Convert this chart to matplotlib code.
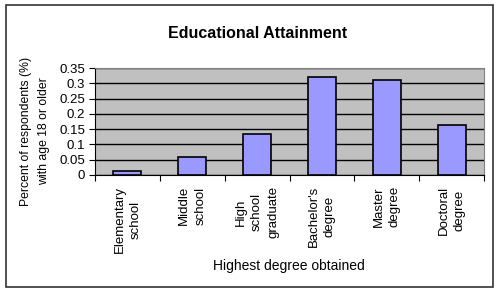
import numpy as np
import matplotlib
matplotlib.use('Agg')
import matplotlib.pyplot as plt
from matplotlib.patches import Rectangle

# Data
categories = ['Elementary\nschool', 'Middle\nschool', 'High\nschool\ngraduate',
              "Bachelor's\ndegree", 'Master\ndegree', 'Doctoral\ndegree']
values = [0.013, 0.058, 0.133, 0.322, 0.31, 0.164]
yticks = [0, 0.05, 0.1, 0.15, 0.2, 0.25, 0.3, 0.35]
ytick_labels = ['0', '0.05', '0.1', '0.15', '0.2', '0.25', '0.3', '0.35']

plt.rcParams['font.family'] = ['Liberation Sans', 'DejaVu Sans']

fig = plt.figure(figsize=(5, 2.95), dpi=100)
ax = fig.add_axes([0.19, 0.407, 0.778, 0.362])

x = np.arange(len(categories))
ax.set_facecolor('#c0c0c0')
ax.yaxis.grid(True, color='black', linewidth=1)
ax.set_axisbelow(True)
ax.bar(x, values, width=0.43, color='#9999ff', edgecolor='black', linewidth=1.2, zorder=3)

ax.set_xlim(-0.5, len(categories) - 0.5)
ax.set_ylim(0, 0.35)
ax.set_yticks(yticks)
ax.set_yticklabels(ytick_labels, fontsize=9.5)

# category labels between boundary ticks
ax.set_xticks(np.arange(len(categories) + 1) - 0.5)
ax.set_xticklabels([])
ax.tick_params(axis='x', length=4, direction='out', color='black')
ax.tick_params(axis='y', length=4, direction='out', pad=3)
ax.set_xticks(x, minor=True)
ax.set_xticklabels(categories, minor=True, rotation=90, fontsize=9.5,
                   ha='center', va='top', multialignment='center', linespacing=1.45)
ax.tick_params(axis='x', which='minor', length=0, pad=8)

for side in ['top', 'right']:
    ax.spines[side].set_color('#808080')
ax.spines['left'].set_color('black')
ax.spines['bottom'].set_color('black')

fig.text(0.515, 0.886, 'Educational Attainment', ha='center', va='center',
         fontsize=11.5, fontweight='bold')
fig.text(0.07, 0.556, 'Percent of respondents (%)\nwith age 18 or older',
         rotation=90, ha='center', va='center', fontsize=8.8,
         multialignment='center', linespacing=1.6)
fig.text(0.577, 0.098, 'Highest degree obtained', ha='center', va='center', fontsize=10)

# outer chart border
fig.patches.append(Rectangle((0.012, 0.027), 0.973, 0.956, transform=fig.transFigure,
                             fill=False, edgecolor='#333333', linewidth=1.2))

fig.savefig('out.png', dpi=100)
